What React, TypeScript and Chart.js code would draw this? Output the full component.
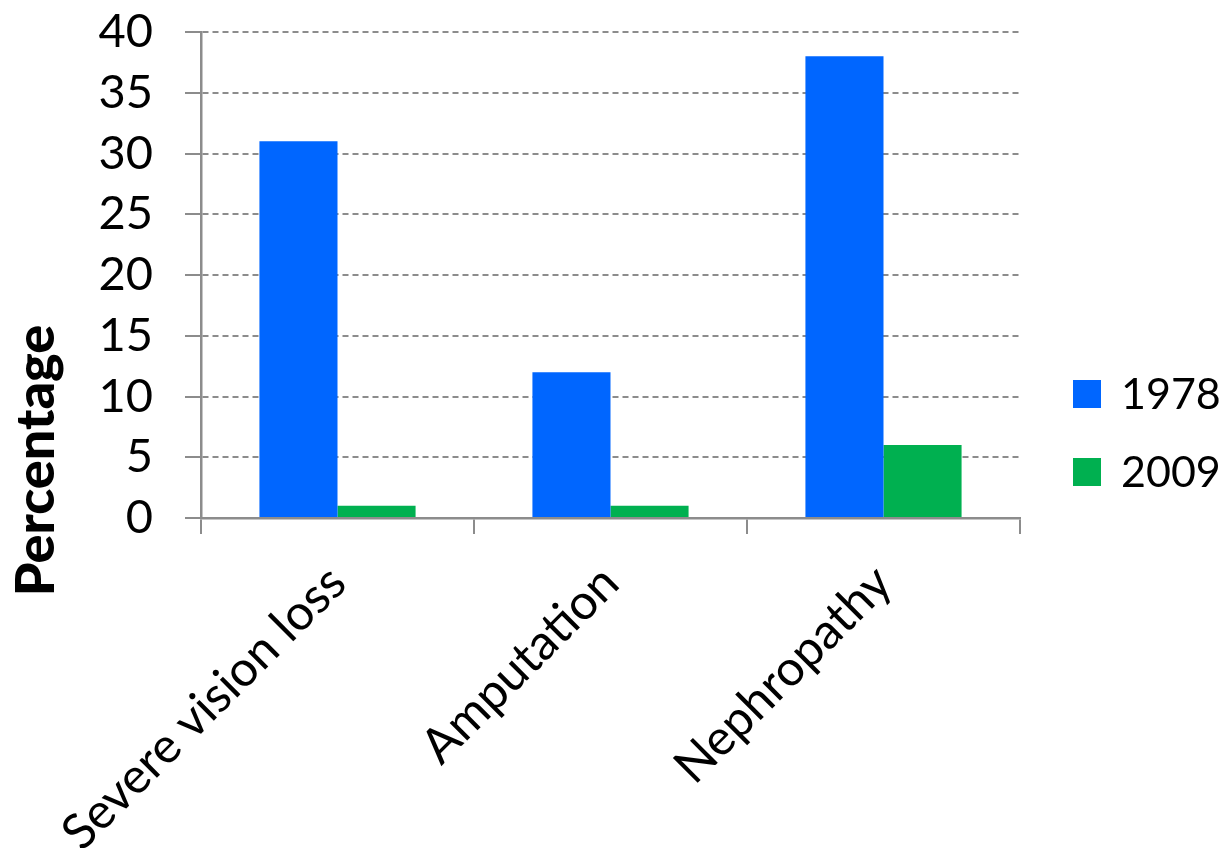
import { useEffect, useRef } from "react";
import { Chart, registerables } from "chart.js";

Chart.register(...registerables);

// Complication rates by year
const categories = ["Severe vision loss", "Amputation", "Nephropathy"];
const seriesLabels = ["1978", "2009"];
const values1978 = [31, 12, 38];
const values2009 = [1, 1, 6];
const seriesColors = ["#0066FF", "#00B050"];
const yMin = 0;
const yMax = 40;
const yStep = 5;
const yTitle = "Percentage";

const FONT = "Lato, 'Open Sans', sans-serif";
const AXIS_GRAY = "#8c8c8c";

// Rotated y-axis title drawn beside the tick labels
const yTitlePlugin = {
  id: "yTitle",
  afterDraw(chart: Chart) {
    const { ctx } = chart;
    ctx.save();
    ctx.translate(37, chart.height * 0.543);
    ctx.rotate(-Math.PI / 2);
    ctx.font = `900 54px ${FONT}`;
    ctx.fillStyle = "#000";
    ctx.textAlign = "center";
    ctx.textBaseline = "middle";
    ctx.fillText(yTitle, 0, 0);
    ctx.restore();
  },
};

// Legend on the right: square swatch followed by the series label
const sideLegendPlugin = {
  id: "sideLegend",
  afterDraw(chart: Chart) {
    const { ctx, chartArea } = chart;
    const box = 28;
    const rowGap = 78;
    const x = chartArea.right + 53;
    const centerY = chart.height / 2 + 9;
    const n = chart.data.datasets.length;
    ctx.save();
    ctx.font = `43px ${FONT}`;
    ctx.textBaseline = "middle";
    ctx.textAlign = "left";
    chart.data.datasets.forEach((ds, i) => {
      const cy = centerY + (i - (n - 1) / 2) * rowGap;
      ctx.fillStyle = ds.backgroundColor as string;
      ctx.fillRect(x, cy - box / 2, box, box);
      ctx.fillStyle = "#000";
      ctx.fillText(String(ds.label), x + box + 20, cy + 1);
    });
    ctx.restore();
  },
};

export default function App() {
  const canvasRef = useRef<HTMLCanvasElement | null>(null);

  useEffect(() => {
    const canvas = canvasRef.current;
    if (!canvas) return;
    const chart = new Chart(canvas, {
      type: "bar",
      data: {
        labels: categories,
        datasets: [
          {
            label: seriesLabels[0],
            data: values1978,
            backgroundColor: seriesColors[0],
            barPercentage: 1,
            categoryPercentage: 0.572,
          },
          {
            label: seriesLabels[1],
            data: values2009,
            backgroundColor: seriesColors[1],
            barPercentage: 1,
            categoryPercentage: 0.572,
          },
        ],
      },
      options: {
        responsive: false,
        animation: false,
        layout: { padding: { top: 32, right: 204, left: 0, bottom: 0 } },
        plugins: {
          legend: { display: false },
          tooltip: { enabled: false },
        },
        scales: {
          x: {
            afterFit(scale: any) {
              scale.height = 330;
            },
            grid: {
              offset: true,
              drawOnChartArea: false,
              drawTicks: true,
              tickLength: 16,
              color: AXIS_GRAY,
              lineWidth: 2,
            },
            border: { color: AXIS_GRAY, width: 2.5 },
            ticks: {
              minRotation: 45,
              maxRotation: 45,
              color: "#000",
              padding: 20,
              font: { family: FONT, size: 49 },
            },
          },
          y: {
            min: yMin,
            max: yMax,
            afterFit(scale: any) {
              scale.width = 201;
              scale.paddingTop = 0;
              scale.paddingBottom = 0;
            },
            grid: {
              color: AXIS_GRAY,
              lineWidth: 2,
              tickLength: 16,
              tickBorderDash: [],
            },
            border: { color: AXIS_GRAY, width: 2.5, dash: [6, 4] },
            ticks: {
              stepSize: yStep,
              autoSkip: false,
              color: "#000",
              padding: 32,
              font: { family: FONT, size: 47 },
            },
          },
        },
      },
      plugins: [yTitlePlugin, sideLegendPlugin],
    });
    return () => chart.destroy();
  }, []);

  return (
    <div style={{ position: "absolute", left: 0, top: 0, width: 1224, height: 848, background: "#fff" }}>
      <canvas ref={canvasRef} width={1224} height={848} />
    </div>
  );
}
